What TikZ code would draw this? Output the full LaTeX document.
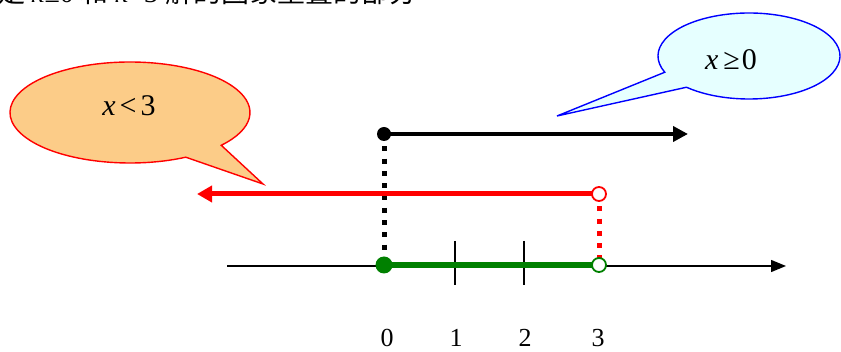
\documentclass[tikz,border=0pt]{standalone}
\usepackage{fontspec}
\setmainfont{Liberation Serif}
\newfontfamily\cjk{Noto Sans CJK SC}
\usetikzlibrary{arrows.meta,calc}
\definecolor{calloutorange}{RGB}{252,204,136}
\definecolor{calloutcyan}{RGB}{230,255,255}
\definecolor{darkgreen}{RGB}{0,128,0}
\tikzset{
  axisline/.style={line width=1.4pt,-{Triangle[length=15pt,width=12pt]}},
  tickline/.style={line width=1.4pt},
  rayblack/.style={line width=4pt,-{Triangle[length=15pt,width=15pt]}},
  rayred/.style={red,line width=5pt,-{Triangle[length=15pt,width=16pt]}},
  raygreen/.style={darkgreen,line width=6pt},
  dotline/.style={line width=5pt,dash pattern=on 5pt off 7.3pt},
  filleddot/.style={circle,inner sep=0pt,minimum size=#1},
  opendot/.style={circle,draw,fill=white,line width=1.8pt,inner sep=0pt,minimum size=14pt},
  numlabel/.style={font=\fontsize{26}{28}\selectfont,anchor=base},
  callouttext/.style={font=\fontsize{30}{32}\selectfont}
}
\begin{document}
\begin{tikzpicture}[x=1pt,y=-1pt]
\useasboundingbox (0,0) rectangle (841,352);
\clip (0,0) rectangle (841,352);

\node[anchor=base west,inner sep=0pt,font=\fontsize{28}{30}\selectfont] (head) at (-3,3)
  {{\cjk 是}\ \textit{x}≥0\ {\cjk 和}\ \textit{x}<3\ {\cjk 解的图象重叠的部分}};

\coordinate (oc) at (130,112.5);
\coordinate (otip) at (263,184);
\filldraw[draw=red,fill=calloutorange,line width=1.4pt,line join=miter]
  ($(oc)+(40.5:120 and 50.5)$) -- (otip) -- ($(oc)+(62.3:120 and 50.5)$)
  arc[start angle=62.3,end angle=400.5,x radius=120,y radius=50.5] -- cycle;
\node[callouttext] (lt) at (129,106) {\textit{x}\kern4pt<\kern4pt3};

\coordinate (bc) at (749,56);
\coordinate (btip) at (557,116);
\filldraw[draw=blue,fill=calloutcyan,line width=1.4pt,line join=miter]
  ($(bc)+(133.4:91 and 43)$) -- (btip) -- ($(bc)+(157.8:91 and 43)$)
  arc[start angle=157.8,end angle=493.4,x radius=91,y radius=43] -- cycle;
\node[callouttext] (gt) at (731,60) {\textit{x}\kern5pt≥\kern2pt0};

\coordinate (axL) at (227,266);
\coordinate (axR) at (786,266);
\draw[axisline] (axL) -- (axR);
\coordinate (t1a) at (455,241);
\coordinate (t1b) at (455,285);
\coordinate (t2a) at (524,241);
\coordinate (t2b) at (524,285);
\draw[tickline] (t1a) -- (t1b);
\draw[tickline] (t2a) -- (t2b);

\coordinate (g0) at (384,265);
\coordinate (g3) at (599,265);
\coordinate (b0) at (384,134);
\coordinate (bR) at (688,134);
\coordinate (r3) at (599,194);
\coordinate (rL) at (197,194);

\draw[dotline] (b0) -- (g0);
\draw[dotline,red] (r3) -- (g3);

\draw[rayblack] (b0) -- (bR);
\draw[rayred] (r3) -- (rL);
\draw[raygreen] (g0) -- (g3);

\node[filleddot=14pt,fill=black] (bd) at (b0) {};
\node[filleddot=17pt,fill=darkgreen] (gd) at (g0) {};
\node[opendot,draw=red] (rd) at (r3) {};
\node[opendot,draw=darkgreen] (god) at (g3) {};

\node[numlabel] (n0) at (387,347) {0};
\node[numlabel] (n1) at (456,347) {1};
\node[numlabel] (n2) at (525,347) {2};
\node[numlabel] (n3) at (598,347) {3};
\end{tikzpicture}
\end{document}
